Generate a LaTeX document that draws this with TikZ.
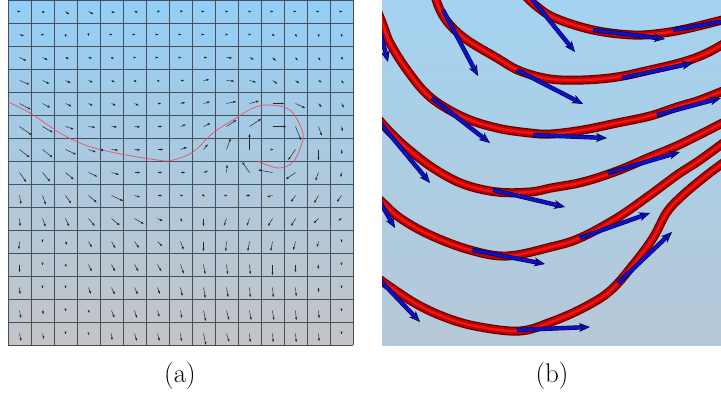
\documentclass[tikz,border=0pt]{standalone}
\usepackage{tikz}
\usetikzlibrary{arrows.meta}
\usepackage{xcolor}

\definecolor{skytop}{RGB}{148,206,246}
\definecolor{greybot}{RGB}{196,196,198}
\definecolor{paletop}{RGB}{164,211,240}
\definecolor{palebot}{RGB}{181,200,215}
\definecolor{gridgrey}{RGB}{70,80,90}
\definecolor{curvered}{RGB}{235,80,95}
\definecolor{tubeedge}{RGB}{95,0,0}
\definecolor{tubered}{RGB}{195,0,0}
\definecolor{tubehi}{RGB}{232,25,20}
\definecolor{shaftblue}{RGB}{15,15,195}
\definecolor{shaftdark}{RGB}{0,0,75}

\tikzset{
  gridline/.style={draw=gridgrey, line width=0.6pt},
  fieldarrow/.style={black!85, line width=0.5pt, -{Latex[length=3pt,width=2.2pt]}},
  tube/.style={draw=tubeedge, line width=9pt, line cap=round,
    postaction={draw=tubered, line width=6.6pt},
    postaction={draw=tubehi, line width=2.4pt}},
  flowarrow/.style={draw=shaftblue, line width=3.2pt,
    -{Stealth[length=11pt, width=9pt, line width=0.6pt, fill=shaftblue, color=shaftdark]},
    preaction={draw=shaftdark, line width=4.4pt, -, shorten >=8pt}},
  caption/.style={font=\fontsize{27}{30}\selectfont}
}

\begin{document}
\begin{tikzpicture}[x=1pt, y=-1pt]
    \useasboundingbox (0,0) rectangle (721,396);

    % Panel (a): background and grid
    \shade[top color=skytop, bottom color=greybot] (8,0) rectangle (353,345);
    \foreach \i in {0,...,15} {
        \draw[gridline] ({8+23*\i},0) -- ({8+23*\i},345);
        \draw[gridline] (8,{23*\i}) -- (353,{23*\i});
    }

    % Vector field, one row per line (angle/length)
    \foreach \r/\rowdata in {
        0/{0/1,-35/3,-38/5,-28/6,-25/4,-10/4,10/3,15/3,0/1,0/2,0/2,0/1,0/1,0/1,0/1},
        1/{-18/5,15/2,-80/3,-80/2,0/1,0/1,0/1,0/1,0/1,0/2,0/2,-35/3,-65/3,-80/3,-80/3},
        2/{-25/8,-25/6,-18/4,-10/4,-30/3,0/2,0/1,0/1,0/4,-5/6,-25/5,-45/5,-55/4,-60/4,-60/3},
        3/{-22/11,-25/8,-25/6,-25/5,-28/4,-40/3,-20/3,0/4,10/6,-5/8,-15/7,-35/6,-35/5,-30/4,-55/4},
        4/{-28/13,-28/9,-25/7,-25/5,-25/5,-25/5,0/4,15/5,15/7,12/10,15/10,0/12,-25/11,-50/5,-60/5},
        5/{-35/15,-30/12,-18/9,-8/7,-5/6,-5/6,0/5,20/6,25/8,33/12,33/14,0/14,-68/15,-70/10,-75/5},
        6/{-38/13,-38/13,-25/12,-20/8,-5/7,-5/6,0/6,20/7,50/7,70/12,90/16,0/1,-125/13,-90/11,-85/5},
        7/{-55/12,-50/12,-40/11,-25/10,-15/8,0/6,0/5,0/5,20/5,85/8,125/13,170/15,-145/12,-110/9,-100/5},
        8/{-80/9,-70/10,-55/10,-40/11,-25/13,-15/6,0/5,0/3,-30/2,0/1,180/4,-165/6,-125/8,-120/9,-125/8},
        9/{-85/8,-70/9,-65/9,-50/10,-40/11,-30/11,-25/6,-60/4,-90/8,-110/8,-110/8,-120/9,-120/9,-135/7,-145/4},
        10/{-95/8,-90/1,-65/4,-60/7,-60/8,-55/8,-45/7,-70/9,-90/10,-95/10,-100/10,-100/10,-105/9,-105/6,-90/1},
        11/{-90/8,-90/1,-70/3,-65/8,-62/8,-60/8,-60/8,-70/10,-80/10,-83/10,-85/10,-90/11,-90/8,-95/5,-90/1},
        12/{-85/7,-90/1,-90/1,-70/7,-65/8,-65/8,-70/7,-78/9,-80/11,-80/10,-85/10,-85/10,-85/9,-90/5,-90/1},
        13/{-80/8,-75/4,-90/1,-70/3,-68/8,-72/8,-75/7,-80/8,-78/11,-75/10,-80/10,-82/10,-85/10,-85/8,-90/1},
        14/{-78/8,-75/6,-90/1,-90/2,-85/7,-72/8,-75/8,-82/8,-78/12,-72/9,-85/9,-85/9,-85/9,-85/8,-90/1}%
    }{
        \foreach \a/\l [count=\c from 0] in \rowdata {
            \draw[fieldarrow, shift={({8+23*(\c+0.5)},{23*(\r+0.5)})}] (0,0) -- (\a:{1pt*\l});
        }
    }

    % Traced curve and its seed point
    \draw[curvered, line width=0.7pt] plot[smooth, tension=0.6] coordinates {
        (8,102) (30,113) (67,137) (102,150) (157,160) (173,160) (193,152)
        (213,133) (233,120) (253,108) (270,105) (290,110) (302,130)
        (302,143) (293,162) (280,168) (267,165) (258,161)};
    \fill[blue] (102,150) circle (1.3pt);

    % Panel (b): background, tubes and arrows
    \shade[top color=paletop, bottom color=palebot] (382,0) rectangle (721,345);
    \begin{scope}
        \clip (382,0) rectangle (721,345);
        % Tubes
        \draw[tube] plot[smooth, tension=0.6] coordinates {
            (520,-10) (535,5) (555,18) (593,30) (633,35) (663,33) (690,28) (730,18)};
        \draw[tube] plot[smooth, tension=0.6] coordinates {
            (433,-10) (440,10) (450,25) (467,40) (497,58) (520,71) (550,79)
            (583,80) (617,77) (650,70) (683,62) (707,53) (730,40)};
        \draw[tube] plot[smooth, tension=0.6] coordinates {
            (375,5) (383,25) (390,43) (407,70) (430,97) (463,117) (497,128)
            (530,133) (551,134) (583,130) (617,123) (650,116) (677,107) (700,100) (730,88)};
        \draw[tube] plot[smooth, tension=0.6] coordinates {
            (372,112) (390,132) (407,148) (433,168) (463,184) (497,192) (530,192)
            (551,188) (583,182) (617,171) (650,157) (683,143) (730,119)};
        \draw[tube] plot[smooth, tension=0.6] coordinates {
            (372,193) (382,202) (400,218) (430,235) (470,250) (507,256) (551,247)
            (580,238) (617,218) (650,195) (677,175) (700,160) (730,138)};
        \draw[tube] plot[smooth, tension=0.6] coordinates {
            (372,274) (413,302) (447,318) (480,327) (520,331) (551,322) (583,308)
            (610,291) (633,265) (653,238) (667,212) (683,195) (707,175) (730,158)};

        % Arrows along the tubes
        \coordinate (p1a) at (528,-6);  \coordinate (q1a) at (575,52);
        \coordinate (p1b) at (593,30);  \coordinate (q1b) at (665,39);
        \coordinate (p1c) at (673,30);  \coordinate (q1c) at (738,19);
        \coordinate (p2a) at (443,10);  \coordinate (q2a) at (478,76);
        \coordinate (p2b) at (517,70);  \coordinate (q2b) at (583,104);
        \coordinate (p2c) at (622,78);  \coordinate (q2c) at (693,63);
        \coordinate (p3a) at (377,20);  \coordinate (q3a) at (388,62);
        \coordinate (p3b) at (432,98);  \coordinate (q3b) at (490,143);
        \coordinate (p3c) at (533,135); \coordinate (q3c) at (607,138);
        \coordinate (p3d) at (657,115); \coordinate (q3d) at (721,98);
        \coordinate (p4a) at (376,118); \coordinate (q4a) at (430,183);
        \coordinate (p4b) at (493,190); \coordinate (q4b) at (565,207);
        \coordinate (p4c) at (608,173); \coordinate (q4c) at (680,152);
        \coordinate (p5a) at (376,195); \coordinate (q5a) at (395,228);
        \coordinate (p5b) at (472,250); \coordinate (q5b) at (545,264);
        \coordinate (p5c) at (580,238); \coordinate (q5c) at (650,213);
        \coordinate (p6a) at (376,276); \coordinate (q6a) at (420,322);
        \coordinate (p6b) at (517,330); \coordinate (q6b) at (590,327);
        \coordinate (p6c) at (618,283); \coordinate (q6c) at (672,232);
        \foreach \k in {1a,1b,1c,2a,2b,2c,3a,3b,3c,3d,4a,4b,4c,5a,5b,5c,6a,6b,6c}
            \draw[flowarrow] (p\k) -- (q\k);
    \end{scope}

    % Captions
    \node[caption] (capa) at (180,376) {(a)};
    \node[caption] (capb) at (552,376) {(b)};
\end{tikzpicture}
\end{document}
